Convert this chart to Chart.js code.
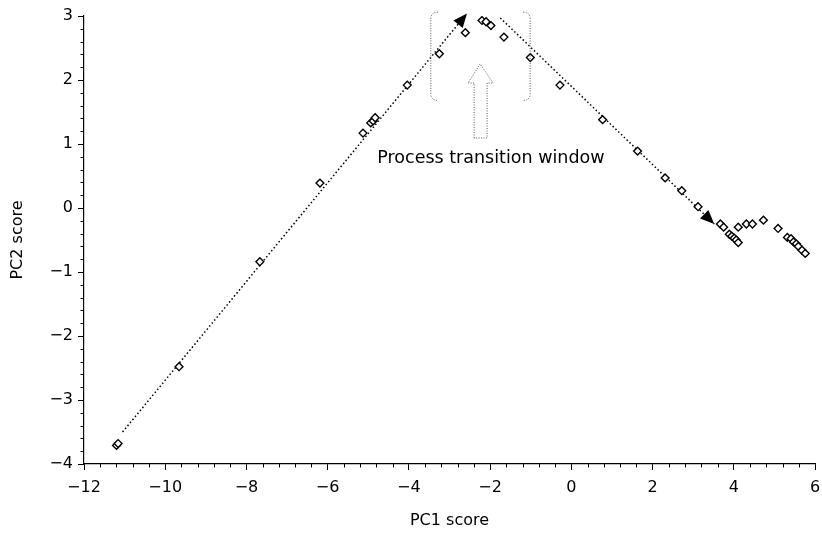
<!DOCTYPE html>
<html>
<head>
<meta charset="utf-8">
<script src="https://cdn.jsdelivr.net/npm/chart.js@4/dist/chart.umd.min.js"></script>
<style>
  html, body { margin: 0; padding: 0; background: #fff; }
  #wrap { width: 822px; height: 534px; position: relative; }
</style>
</head>
<body>
<div id="wrap"><canvas id="c"></canvas></div>
<script>
// ---- Data ----
const pc1Scores = [-11.20, -11.16, -9.66, -7.67, -6.19, -5.13, -4.94, -4.88, -4.83, -4.04,
  -3.25, -2.61, -2.20, -2.10, -1.98, -1.66, -1.01, -0.28, 0.77, 1.63,
  2.31, 2.72, 3.12, 3.67, 3.75, 3.89, 3.95, 4.01, 4.06, 4.11,
  4.11, 4.31, 4.46, 4.73, 5.09, 5.32, 5.41, 5.47, 5.54, 5.59, 5.68, 5.76];
const pc2Scores = [-3.71, -3.68, -2.48, -0.84, 0.39, 1.17, 1.33, 1.36, 1.41, 1.92,
  2.41, 2.74, 2.93, 2.91, 2.85, 2.67, 2.35, 1.92, 1.38, 0.89,
  0.47, 0.27, 0.02, -0.25, -0.30, -0.41, -0.44, -0.47, -0.50, -0.54,
  -0.30, -0.25, -0.25, -0.19, -0.32, -0.46, -0.48, -0.53, -0.56, -0.60, -0.66, -0.71];

// trend arrows (start, end)
const trendUpX = [-11.05, -2.57];
const trendUpY = [-3.50, 3.04];
const trendDownX = [-1.75, 3.52];
const trendDownY = [2.97, -0.25];

// axis ranges / ticks
const xRange = [-12, 6];
const yRange = [-4, 3];
const xMajorStep = 2, xMinorStep = 0.4;
const yMajorStep = 1, yMinorStep = 0.2;

const annotationText = 'Process transition window';
const xTitle = 'PC1 score';
const yTitle = 'PC2 score';

// annotation geometry in data units
const leftBracket = { x: -3.46, hookX: -3.28, yTop: 3.06, yBottom: 1.68 };
const rightBracket = { x: -1.015, hookX: -1.19, yTop: 3.06, yBottom: 1.68 };
const hollowArrow = { shaftL: -2.394, shaftR: -2.074, bottom: 1.094, headBase: 1.953,
  headL: -2.542, headR: -1.926, tipX: -2.246, tipY: 2.25 };
const textPos = { x: -1.98, y: 0.78 };

const toPts = (xs, ys) => xs.map((x, i) => ({ x: x, y: ys[i] }));
const fmt = v => {
  const r = Math.round(v * 1000) / 1000;
  return r < 0 ? '\u2212' + Math.abs(r) : String(r);
};

const FONT = "'DejaVu Sans', 'Liberation Sans', Arial, sans-serif";

const decorPlugin = {
  id: 'decor',
  afterDatasetsDraw(chart) {
    const ctx = chart.ctx;
    const xs = chart.scales.x, ys = chart.scales.y;
    const px = v => xs.getPixelForValue(v);
    const py = v => ys.getPixelForValue(v);
    ctx.save();

    // arrowheads at ends of trend lines
    [1, 2].forEach(di => {
      const meta = chart.getDatasetMeta(di);
      const pts = meta.data;
      const a = pts[pts.length - 2], b = pts[pts.length - 1];
      const ang = Math.atan2(b.y - a.y, b.x - a.x);
      const L = 14, W = 6;
      const bx = b.x - L * Math.cos(ang), by = b.y - L * Math.sin(ang);
      ctx.beginPath();
      ctx.moveTo(b.x, b.y);
      ctx.lineTo(bx + W * Math.sin(ang), by - W * Math.cos(ang));
      ctx.lineTo(bx - W * Math.sin(ang), by + W * Math.cos(ang));
      ctx.closePath();
      ctx.fillStyle = '#000';
      ctx.fill();
    });

    // brackets
    ctx.strokeStyle = '#555';
    ctx.lineWidth = 1;
    ctx.setLineDash([1, 1.5]);
    [leftBracket, rightBracket].forEach(bk => {
      const x = px(bk.x), hx = px(bk.hookX), yt = py(bk.yTop), yb = py(bk.yBottom);
      const r = 7;
      ctx.beginPath();
      ctx.moveTo(hx, yt);
      ctx.quadraticCurveTo(x, yt, x, yt + r);
      ctx.lineTo(x, yb - r);
      ctx.quadraticCurveTo(x, yb, hx, yb);
      ctx.stroke();
    });

    // hollow up arrow
    const ha = hollowArrow;
    ctx.beginPath();
    ctx.moveTo(px(ha.shaftL), py(ha.bottom));
    ctx.lineTo(px(ha.shaftL), py(ha.headBase));
    ctx.lineTo(px(ha.headL), py(ha.headBase));
    ctx.lineTo(px(ha.tipX), py(ha.tipY));
    ctx.lineTo(px(ha.headR), py(ha.headBase));
    ctx.lineTo(px(ha.shaftR), py(ha.headBase));
    ctx.lineTo(px(ha.shaftR), py(ha.bottom));
    ctx.closePath();
    ctx.stroke();
    ctx.setLineDash([]);

    // label
    ctx.fillStyle = '#000';
    ctx.font = '17.5px ' + FONT;
    ctx.textAlign = 'center';
    ctx.textBaseline = 'middle';
    ctx.fillText(annotationText, px(textPos.x), py(textPos.y));

    // minor ticks
    ctx.strokeStyle = '#000';
    ctx.lineWidth = 1;
    const yAxisPix = ys.getPixelForValue(yRange[0]);
    const xAxisPix = xs.getPixelForValue(xRange[0]);
    ctx.beginPath();
    const nx = Math.round((xRange[1] - xRange[0]) / xMinorStep);
    for (let i = 0; i <= nx; i++) {
      const v = xRange[0] + i * xMinorStep;
      if (Math.abs(v / xMajorStep - Math.round(v / xMajorStep)) < 1e-6) continue;
      const p = Math.round(px(v)) + 0.5;
      ctx.moveTo(p, yAxisPix);
      ctx.lineTo(p, yAxisPix + 3.5);
    }
    const ny = Math.round((yRange[1] - yRange[0]) / yMinorStep);
    for (let i = 0; i <= ny; i++) {
      const v = yRange[0] + i * yMinorStep;
      if (Math.abs(v / yMajorStep - Math.round(v / yMajorStep)) < 1e-6) continue;
      const p = Math.round(py(v)) + 0.5;
      ctx.moveTo(xAxisPix, p);
      ctx.lineTo(xAxisPix - 3.5, p);
    }
    ctx.stroke();
    ctx.restore();
  }
};

new Chart(document.getElementById('c'), {
  type: 'scatter',
  data: {
    datasets: [
      {
        label: 'scores',
        data: toPts(pc1Scores, pc2Scores),
        pointStyle: 'rectRot',
        pointRadius: 3.9,
        pointBorderWidth: 1.4,
        pointBorderColor: '#000',
        pointBackgroundColor: '#fff',
        showLine: false,
        order: 0
      },
      {
        label: 'trend up',
        data: toPts(trendUpX, trendUpY),
        showLine: true,
        borderColor: '#000',
        borderWidth: 1.5,
        borderDash: [1.5, 2.4],
        pointRadius: 0,
        order: 1
      },
      {
        label: 'trend down',
        data: toPts(trendDownX, trendDownY),
        showLine: true,
        borderColor: '#000',
        borderWidth: 1.5,
        borderDash: [1.5, 2.4],
        pointRadius: 0,
        order: 1
      }
    ]
  },
  options: {
    responsive: true,
    maintainAspectRatio: false,
    animation: false,
    events: [],
    layout: { padding: { top: 16, right: 0, left: 0, bottom: 4 } },
    plugins: { legend: { display: false }, tooltip: { enabled: false } },
    scales: {
      x: {
        type: 'linear',
        min: xRange[0], max: xRange[1],
        afterFit: s => { s.height = 66; s.paddingRight = 7; },
        border: { display: true, color: '#000', width: 1.2 },
        grid: { display: true, drawOnChartArea: false, drawTicks: true, tickLength: 6, tickColor: '#000' },
        ticks: { stepSize: xMajorStep, color: '#000', padding: 8, maxRotation: 0,
          font: { family: FONT, size: 16 }, callback: v => fmt(v) },
        title: { display: true, text: xTitle, color: '#000', font: { family: FONT, size: 16 },
          padding: { top: 6, bottom: 0 } }
      },
      y: {
        type: 'linear',
        min: yRange[0], max: yRange[1],
        afterFit: s => { s.width = 84; },
        border: { display: true, color: '#000', width: 1.2 },
        grid: { display: true, drawOnChartArea: false, drawTicks: true, tickLength: 6, tickColor: '#000' },
        ticks: { stepSize: yMajorStep, color: '#000', padding: 5,
          font: { family: FONT, size: 16 }, callback: v => fmt(v) },
        title: { display: true, text: yTitle, color: '#000', font: { family: FONT, size: 16 },
          padding: { top: 8, bottom: 6 } }
      }
    }
  },
  plugins: [decorPlugin]
});
</script>
</body>
</html>
